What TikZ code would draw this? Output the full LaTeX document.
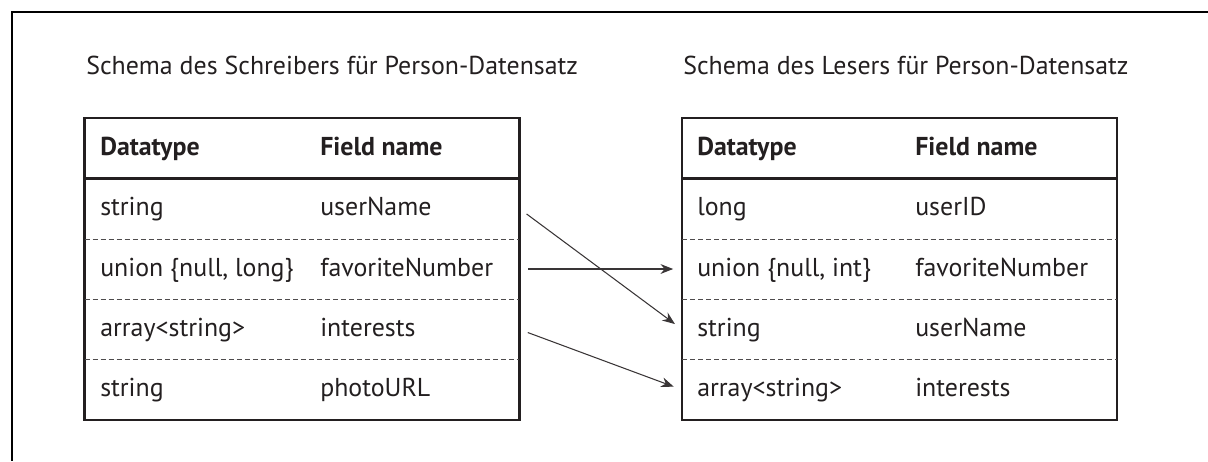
\documentclass[tikz,border=0pt]{standalone}
\usepackage{fontspec}
\setmainfont{PT Sans}
\usetikzlibrary{arrows.meta,positioning}

\definecolor{ink}{HTML}{231F20}

\tikzset{
  frame/.style={draw=black, line width=1.2pt},
  title/.style={anchor=base west, inner sep=0pt, text=ink, font=\fontsize{18.4}{22}\selectfont},
  cell/.style={anchor=base west, inner sep=0pt, text=ink, font=\fontsize{18.4}{22}\selectfont},
  head/.style={cell, font=\fontsize{18.4}{22}\selectfont\bfseries},
  row/.style={minimum width=10.85cm, minimum height=1.51cm, inner sep=0pt},
  tableline/.style={draw=ink, line width=1.7pt},
  sepline/.style={draw=ink!80, line width=0.7pt, dash pattern=on 3.5pt off 2.2pt},
  link/.style={draw=ink!90, line width=0.75pt, shorten <=0.225cm, shorten >=0.225cm,
    -{Stealth[length=9pt,width=7pt]}}
}

\begin{document}
\begin{tikzpicture}[x=0.025cm,y=-0.025cm]
  \useasboundingbox (0,0) rectangle (1208,461);
  \draw[frame] (1208,12) -- (12,12) -- (12,461);

  \node[title] (wtitle) at (86,74) {Schema des Schreibers für Person-Datensatz};
  \node[title] (rtitle) at (683,74) {Schema des Lesers für Person-Datensatz};

  % writer schema
  \node[row] (wh) at (302,148.2) {};
  \node[row] (w1) at (302,208.6) {};
  \node[row] (w2) at (302,269.0) {};
  \node[row] (w3) at (302,329.4) {};
  \node[row] (w4) at (302,389.8) {};

  \node[head] (wht) at (100,155.7) {Datatype};
  \node[head] (whf) at (320,155.7) {Field name};
  \node[cell] (w1t) at (100,215.6) {string};
  \node[cell] (w1f) at (320,215.6) {userName};
  \node[cell] (w2t) at (100,276.0) {union \{null, long\}};
  \node[cell] (w2f) at (320,276.0) {favoriteNumber};
  \node[cell] (w3t) at (100,336.4) {array<string>};
  \node[cell] (w3f) at (320,336.4) {interests};
  \node[cell] (w4t) at (100,396.8) {string};
  \node[cell] (w4f) at (320,396.8) {photoURL};

  \draw[tableline] (wh.north west) rectangle (w4.south east);
  \draw[tableline] (wh.south west) -- (wh.south east);
  \draw[sepline] (w1.south west) -- (w1.south east);
  \draw[sepline] (w2.south west) -- (w2.south east);
  \draw[sepline] (w3.south west) -- (w3.south east);

  % reader schema
  \node[row] (rh) at (899.5,148.2) {};
  \node[row] (r1) at (899.5,208.6) {};
  \node[row] (r2) at (899.5,269.0) {};
  \node[row] (r3) at (899.5,329.4) {};
  \node[row] (r4) at (899.5,389.8) {};

  \node[head] (rht) at (697,155.7) {Datatype};
  \node[head] (rhf) at (915,155.7) {Field name};
  \node[cell] (r1t) at (697,215.6) {long};
  \node[cell] (r1f) at (915,215.6) {userID};
  \node[cell] (r2t) at (697,276.0) {union \{null, int\}};
  \node[cell] (r2f) at (915,276.0) {favoriteNumber};
  \node[cell] (r3t) at (697,336.4) {string};
  \node[cell] (r3f) at (915,336.4) {userName};
  \node[cell] (r4t) at (697,396.8) {array<string>};
  \node[cell] (r4f) at (915,396.8) {interests};

  \draw[tableline] (rh.north west) rectangle (r4.south east);
  \draw[tableline] (rh.south west) -- (rh.south east);
  \draw[sepline] (r1.south west) -- (r1.south east);
  \draw[sepline] (r2.south west) -- (r2.south east);
  \draw[sepline] (r3.south west) -- (r3.south east);

  % field matching
  \draw[link] (w1.east) -- (r3.west);
  \draw[link] (w2.east) -- (r2.west);
  \draw[link] (w3.east) -- (r4.west);
\end{tikzpicture}
\end{document}
